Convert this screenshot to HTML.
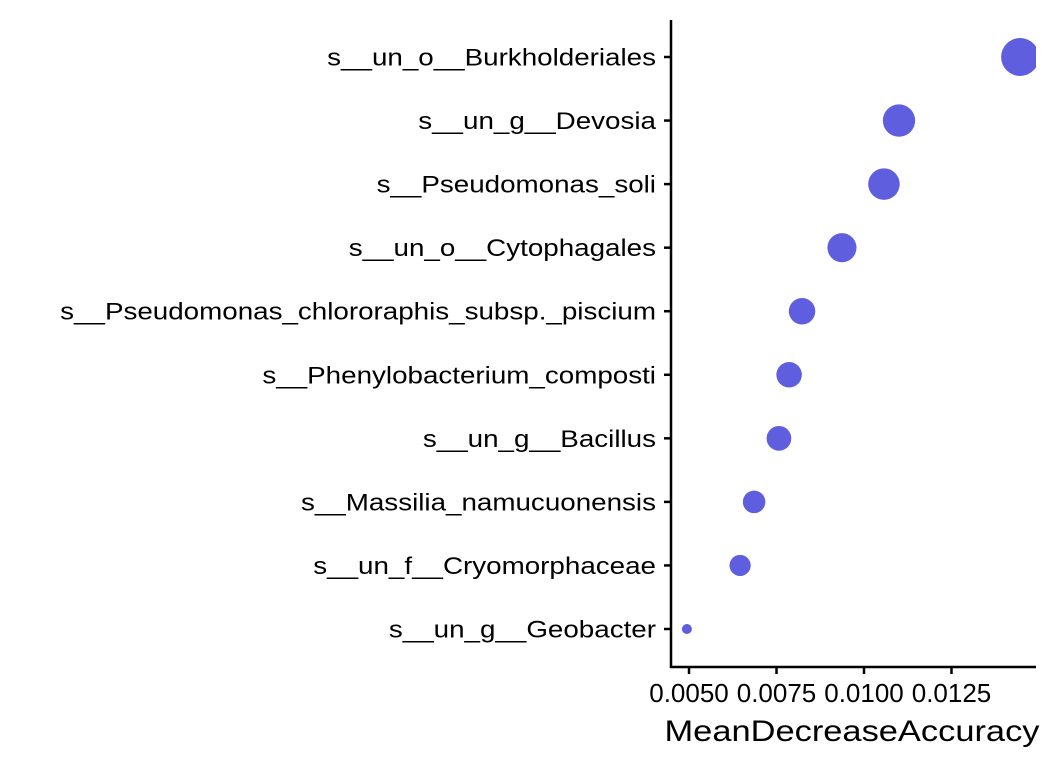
<!DOCTYPE html>
<html><head><meta charset="utf-8"><style>
body{margin:0;background:#fff;}
svg text{font-family:"Liberation Sans",Arial,sans-serif;fill:#000;}
</style></head><body>
<svg id="chart" width="1056" height="768" xmlns="http://www.w3.org/2000/svg">
<defs><clipPath id="pc"><rect x="671" y="10" width="365" height="657"/></clipPath></defs>
<g id="points" clip-path="url(#pc)"></g>
<g id="axes"></g>
</svg>
<script>
const categories=["s__un_o__Burkholderiales","s__un_g__Devosia","s__Pseudomonas_soli","s__un_o__Cytophagales","s__Pseudomonas_chlororaphis_subsp._piscium","s__Phenylobacterium_composti","s__un_g__Bacillus","s__Massilia_namucuonensis","s__un_f__Cryomorphaceae","s__un_g__Geobacter"];
const values=[0.01446,0.01100,0.01057,0.00937,0.00823,0.00786,0.00757,0.00686,0.00646,0.00494];
const xTicks=[0.005,0.0075,0.01,0.0125];
const xTickLabels=["0.0050","0.0075","0.0100","0.0125"];
const NS="http://www.w3.org/2000/svg";
const x=v=>689+(v-0.005)/0.0025*87.5;
const y=i=>57+i*(629-57)/(categories.length-1);
const vmin=Math.min(...values),vmax=Math.max(...values);
const r=v=>5+14*Math.sqrt((v-vmin)/(vmax-vmin||1));
function mk(t,a,p){const e=document.createElementNS(NS,t);for(const k in a)e.setAttribute(k,a[k]);p.appendChild(e);return e;}
function stretch(t,f){const w=t.getComputedTextLength();t.setAttribute('textLength',w*f);t.setAttribute('lengthAdjust','spacingAndGlyphs');}
const P=document.getElementById('points'),A=document.getElementById('axes');
values.forEach((v,i)=>{const c=mk('circle',{cx:x(v),cy:y(i),r:r(v),fill:'#5E5EDE'},P);

});
let l=mk('line',{x1:671,y1:20,x2:671,y2:668,stroke:'#000','stroke-width':2.5},A);


l=mk('line',{x1:670,y1:667,x2:1036,y2:667,stroke:'#000','stroke-width':2.5},A);


categories.forEach((c,i)=>{mk('line',{x1:664,y1:y(i),x2:671,y2:y(i),stroke:'#000','stroke-width':2.5},A);
const t=mk('text',{x:656,y:y(i)+8.5,'text-anchor':'end','font-size':'24'},A);t.textContent=c;
stretch(t,1.157);

});
xTicks.forEach((v,i)=>{mk('line',{x1:x(v),y1:667,x2:x(v),y2:674,stroke:'#000','stroke-width':2.5},A);
const t=mk('text',{x:x(v),y:702,'text-anchor':'middle','font-size':'26'},A);t.textContent=xTickLabels[i];

});
const tt=mk('text',{x:852,y:741,'text-anchor':'middle','font-size':'30'},A);tt.textContent='MeanDecreaseAccuracy';
tt.setAttribute('textLength',375);
tt.setAttribute('lengthAdjust','spacingAndGlyphs');


</script>
</body></html>
